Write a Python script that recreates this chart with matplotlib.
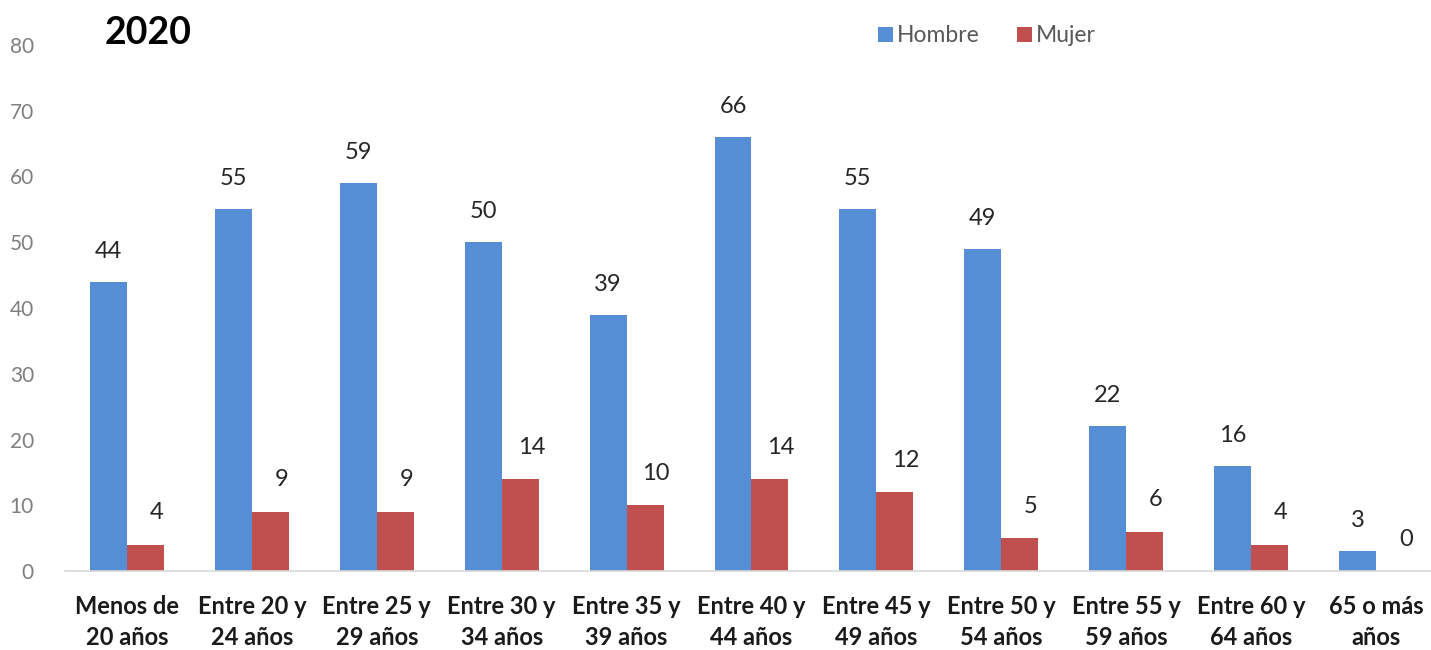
import numpy as np
import matplotlib.pyplot as plt

plt.rcParams['font.family'] = ['Lato', 'DejaVu Sans']

grupos = ['Menos de\n20 años', 'Entre 20 y\n24 años', 'Entre 25 y\n29 años', 'Entre 30 y\n34 años',
          'Entre 35 y\n39 años', 'Entre 40 y\n44 años', 'Entre 45 y\n49 años', 'Entre 50 y\n54 años',
          'Entre 55 y\n59 años', 'Entre 60 y\n64 años', '65 o más\naños']
hombre = [44, 55, 59, 50, 39, 66, 55, 49, 22, 16, 3]
mujer = [4, 9, 9, 14, 10, 14, 12, 5, 6, 4, 0]

azul = '#558ED5'
rojo = '#C0504D'

fig = plt.figure(figsize=(14.31, 6.5), dpi=100)
ax = fig.add_axes([64.5 / 1431, 79 / 650, 1 - 64.5 / 1431, 526 / 650])

x = np.arange(len(grupos))
w = 0.296
b1 = ax.bar(x - w / 2, hombre, w, color=azul, label='Hombre')
b2 = ax.bar(x + w / 2, mujer, w, color=rojo, label='Mujer')

for xi, v in zip(x, hombre):
    ax.annotate(str(v), (xi - w / 2, v), xytext=(0, 22), textcoords='offset points',
                ha='center', va='center', fontsize=17, color='#262626')
for xi, v in zip(x, mujer):
    ax.annotate(str(v), (xi + w / 2, v), xytext=(8, 23), textcoords='offset points',
                ha='center', va='center', fontsize=17, color='#262626')

ax.set_xlim(-0.5, 10.44)
ax.set_ylim(0, 80)
ax.set_yticks(range(0, 81, 10))
ax.set_xticks(x)
ax.set_xticklabels(grupos, fontsize=17, fontweight='bold', color='#1a1a1a', linespacing=1.42)
ax.tick_params(axis='x', length=0, pad=17)
ax.tick_params(axis='y', length=0, pad=22, labelsize=15, labelcolor='#7f7f7f')
for s in ['top', 'right', 'left']:
    ax.spines[s].set_visible(False)
ax.spines['bottom'].set_color('#d9d9d9')
ax.spines['bottom'].set_linewidth(1.2)

fig.text(105 / 1431, 1 - 33 / 650, '2020', fontsize=27, fontweight='bold', va='center', ha='left')

leg = ax.legend(loc='center', bbox_to_anchor=(987 / 1431, 1 - 36 / 650), bbox_transform=fig.transFigure,
                ncol=2, frameon=False, fontsize=16.5, handlelength=0.65, handleheight=0.65,
                handletextpad=0.2, columnspacing=1.6)
for t in leg.get_texts():
    t.set_color('#595959')

fig.savefig('out.png', dpi=100)
